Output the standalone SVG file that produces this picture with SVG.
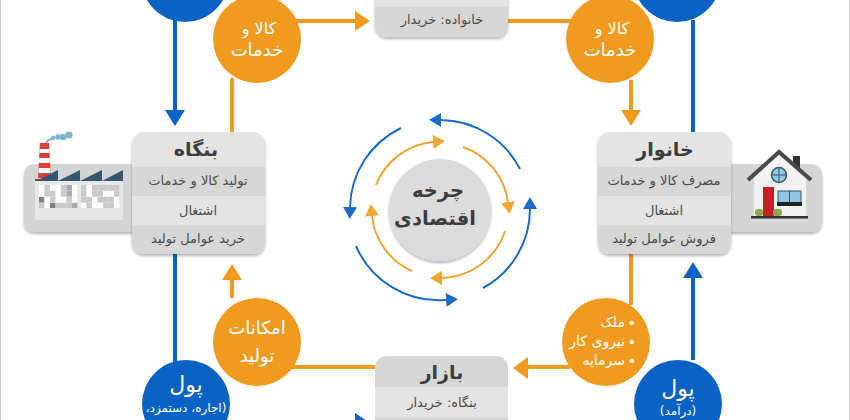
<svg xmlns="http://www.w3.org/2000/svg" width="850" height="420" viewBox="0 0 850 420">
<style>
text{font-family:"DejaVu Sans",sans-serif;text-anchor:middle;direction:rtl}
.o{fill:#f09a1f}.b{fill:#0a63c4}
.lo{stroke:#f09a1f;stroke-width:4;fill:none}.lb{stroke:#0a63c4;stroke-width:4;fill:none}
.ao{stroke:#f0a632;stroke-width:2;fill:none}.ab{stroke:#1a6cc8;stroke-width:2;fill:none}
.dk{fill:#d7d7d7}
.h{font-size:19px;font-weight:bold;fill:#3c3c3c}
.c{font-size:19.5px;font-weight:bold;fill:#3c3c3c}
.r{font-size:13px;fill:#4a4a4a}
.w{fill:#fff;font-size:18px}
.k{fill:#fff;font-size:16px}
.wb{fill:#fff;font-size:18px}
.bl{fill:#fff;font-size:14px}
.p{fill:#fff;font-size:22px}
.s{fill:#fff;font-size:12px}
.m1{fill:#fff}.m2{fill:#c9c9c9}.m3{fill:#a8a8a8}.m4{fill:#808080}
</style>
<defs>
<filter id="s" x="-10%" y="-10%" width="120%" height="120%"><feDropShadow dx="0" dy="2" stdDeviation="1.5" flood-color="#000" flood-opacity=".3"/></filter>
<marker id="mo" markerUnits="userSpaceOnUse" markerWidth="14" markerHeight="14" refX="0" refY="7" orient="auto"><path d="M0 0L12 7L0 14z" fill="#f0a632"/></marker>
<marker id="mb" markerUnits="userSpaceOnUse" markerWidth="14" markerHeight="14" refX="0" refY="7" orient="auto"><path d="M0 0L12 7L0 14z" fill="#1a6cc8"/></marker>
<clipPath id="c1"><rect x="132" y="132" width="133" height="122" rx="12"/></clipPath>
<clipPath id="c2"><rect x="598" y="132" width="133" height="122" rx="12"/></clipPath>
<clipPath id="c3"><rect x="375" y="356" width="133" height="90" rx="12"/></clipPath>
<clipPath id="c4"><rect x="375" y="-60" width="133" height="97" rx="12"/></clipPath>
</defs>
<rect width="850" height="420" fill="#fff"/>
<rect x="0" y="0" width="1" height="420" fill="#ccc"/>
<rect x="849" y="0" width="1" height="420" fill="#ccc"/>
<g id="connectors">
<path class="lb" d="M175 20V112"/><path class="b" d="M165 110H185L175 126z"/>
<path class="lo" d="M232 78V132"/>
<path class="lo" d="M290 21H356"/><path class="o" d="M355 11V31L370 21z"/>
<path class="lo" d="M508 21H575"/>
<path class="lo" d="M631 80V112"/><path class="o" d="M621 110H641L631 126z"/>
<path class="lb" d="M693 20V132"/>
<path class="lb" d="M693 360V276"/><path class="b" d="M683 278H703L693 262z"/>
<path class="lo" d="M631 254V305"/>
<path class="lo" d="M570 367H526"/><path class="o" d="M528 357V379L513 368z"/>
<path class="lo" d="M375 367H290"/>
<path class="lo" d="M232 298V278"/><path class="o" d="M222 280H242L232 264z"/>
<path class="lb" d="M175 254V362"/>
<path class="b" d="M355 413V433L370 423z"/>
<path class="ab" d="M520 169A90 90 0 0 0 441 120" marker-end="url(#mb)"/>
<path class="ab" d="M401 128A90 90 0 0 0 350 207" marker-end="url(#mb)"/>
<path class="ab" d="M356 246A90 90 0 0 0 446 300" marker-end="url(#mb)"/>
<path class="ab" d="M483 288A90 90 0 0 0 530 209" marker-end="url(#mb)"/>
<path class="ao" d="M376 185A68 68 0 0 1 433 142" marker-end="url(#mo)"/>
<path class="ao" d="M463 147A68 68 0 0 1 508 202" marker-end="url(#mo)"/>
<path class="ao" d="M505 231A68 68 0 0 1 442 278" marker-end="url(#mo)"/>
<path class="ao" d="M412 271A68 68 0 0 1 372 216" marker-end="url(#mo)"/>
</g>
<g id="firm">
<rect x="24" y="164" width="120" height="68" rx="10" fill="#d5d5d5" filter="url(#s)"/>
<g fill="#7fb3cf"><circle cx="69" cy="135" r="3.6"/><circle cx="63" cy="137" r="3.2"/><circle cx="58" cy="137" r="2.8"/><circle cx="53" cy="138" r="2.2"/></g>
<path d="M53 139q-6 0-7 5" fill="none" stroke="#7fb3cf" stroke-width="2"/>
<path d="M40 143H49L51 178H38z" fill="#e23b3b"/>
<path d="M39.7 149H49.3L49.5 153H39.5zM39.2 158H49.8L50 163H39zM38.7 168H50.3L50.5 173H38.5z" fill="#fff"/>
<rect x="35" y="181" width="88" height="39" fill="#e8e8e8"/>
<path d="M36 181L58 170V181zM58 181L80 170V181zM80 181L102 170V181zM102 181L123 170V181z" fill="#35566f"/>
<rect x="35" y="179" width="8" height="2" fill="#555"/>
<g>
<rect class="m1" x="39" y="185" width="5.4" height="5.5"/><rect class="m2" x="44.5" y="185" width="5.4" height="5.5"/><rect class="m1" x="50" y="185" width="5.4" height="5.5"/><rect class="m1" x="55.5" y="185" width="5.4" height="5.5"/><rect class="m2" x="61" y="185" width="5.4" height="5.5"/><rect class="m3" x="66.5" y="185" width="5.4" height="5.5"/><rect class="m1" x="72" y="185" width="5.4" height="5.5"/>
<rect class="m2" x="81" y="185" width="5.4" height="5.5"/><rect class="m1" x="86.5" y="185" width="5.4" height="5.5"/><rect class="m2" x="92" y="185" width="5.4" height="5.5"/><rect class="m2" x="97.5" y="185" width="5.4" height="5.5"/><rect class="m2" x="103" y="185" width="5.4" height="5.5"/><rect class="m2" x="108.5" y="185" width="5.4" height="5.5"/><rect class="m2" x="114" y="185" width="5.4" height="5.5"/>
<rect class="m1" x="39" y="191" width="5.4" height="5.5"/><rect class="m2" x="44.5" y="191" width="5.4" height="5.5"/><rect class="m2" x="50" y="191" width="5.4" height="5.5"/><rect class="m1" x="55.5" y="191" width="5.4" height="5.5"/><rect class="m2" x="61" y="191" width="5.4" height="5.5"/><rect class="m3" x="66.5" y="191" width="5.4" height="5.5"/><rect class="m1" x="72" y="191" width="5.4" height="5.5"/>
<rect class="m2" x="81" y="191" width="5.4" height="5.5"/><rect class="m1" x="86.5" y="191" width="5.4" height="5.5"/><rect class="m2" x="92" y="191" width="5.4" height="5.5"/><rect class="m2" x="97.5" y="191" width="5.4" height="5.5"/><rect class="m1" x="103" y="191" width="5.4" height="5.5"/><rect class="m1" x="108.5" y="191" width="5.4" height="5.5"/><rect class="m2" x="114" y="191" width="5.4" height="5.5"/>
<rect class="m4" x="39" y="197" width="5.4" height="5.5"/><rect class="m1" x="44.5" y="197" width="5.4" height="5.5"/><rect class="m2" x="50" y="197" width="5.4" height="5.5"/><rect class="m1" x="55.5" y="197" width="5.4" height="5.5"/><rect class="m1" x="61" y="197" width="5.4" height="5.5"/><rect class="m2" x="66.5" y="197" width="5.4" height="5.5"/><rect class="m1" x="72" y="197" width="5.4" height="5.5"/>
<rect class="m2" x="81" y="197" width="5.4" height="5.5"/><rect class="m2" x="86.5" y="197" width="5.4" height="5.5"/><rect class="m1" x="92" y="197" width="5.4" height="5.5"/><rect class="m2" x="97.5" y="197" width="5.4" height="5.5"/><rect class="m2" x="103" y="197" width="5.4" height="5.5"/><rect class="m2" x="108.5" y="197" width="5.4" height="5.5"/><rect class="m1" x="114" y="197" width="5.4" height="5.5"/>
<rect class="m2" x="39" y="203" width="5.4" height="5"/><rect class="m1" x="44.5" y="203" width="5.4" height="5"/><rect class="m4" x="50" y="203" width="5.4" height="5"/><rect class="m2" x="55.5" y="203" width="5.4" height="5"/><rect class="m2" x="61" y="203" width="5.4" height="5"/><rect class="m2" x="66.5" y="203" width="5.4" height="5"/><rect class="m3" x="72" y="203" width="5.4" height="5"/>
<rect class="m1" x="81" y="203" width="5.4" height="5"/><rect class="m2" x="86.5" y="203" width="5.4" height="5"/><rect class="m1" x="92" y="203" width="5.4" height="5"/><rect class="m1" x="97.5" y="203" width="5.4" height="5"/><rect class="m2" x="103" y="203" width="5.4" height="5"/><rect class="m2" x="108.5" y="203" width="5.4" height="5"/><rect class="m1" x="114" y="203" width="5.4" height="5"/>
</g>
<g filter="url(#s)"><rect x="132" y="132" width="133" height="122" rx="12" fill="#e4e4e4"/></g>
<g clip-path="url(#c1)"><rect class="dk" x="132" y="167" width="133" height="29"/><rect class="dk" x="132" y="225" width="133" height="30"/></g>
<text class="h" x="196" y="156">بنگاه</text>
<text class="r" x="198" y="185">تولید کالا و خدمات</text>
<text class="r" x="198" y="215">اشتغال</text>
<text class="r" x="198" y="243">خرید عوامل تولید</text>
</g>
<g id="household">
<rect x="700" y="164" width="122" height="68" rx="10" fill="#d5d5d5" filter="url(#s)"/>
<rect x="793" y="156" width="7" height="14" fill="#333"/>
<path d="M754 178L779 154L806 178V216H754z" fill="#f2f2f2"/>
<path d="M748 180L779 152L811 180" fill="none" stroke="#4a4a4a" stroke-width="4"/>
<circle cx="779" cy="175" r="7.5" fill="#8fc6e0" stroke="#35566f" stroke-width="1.5"/>
<path d="M771.5 175H786.500M779 167.500V182.500" stroke="#35566f"/>
<rect x="763" y="187" width="11" height="29" fill="#c61f26"/>
<rect x="778" y="191" width="23" height="12" fill="#8fc6e0" stroke="#35566f"/>
<path d="M789.500 191V203" stroke="#35566f"/>
<rect x="777" y="202" width="25" height="4" fill="#222"/>
<rect x="755" y="209" width="8" height="7" rx="3" fill="#8ea64a"/><rect x="773" y="209" width="9" height="7" rx="3" fill="#8ea64a"/>
<rect x="751" y="216" width="57" height="2.500" fill="#333"/>
<g filter="url(#s)"><rect x="598" y="132" width="133" height="122" rx="12" fill="#e4e4e4"/></g>
<g clip-path="url(#c2)"><rect class="dk" x="598" y="167" width="133" height="29"/><rect class="dk" x="598" y="225" width="133" height="30"/></g>
<text class="h" x="665" y="156">خانوار</text>
<text class="r" x="664" y="185">مصرف کالا و خدمات</text>
<text class="r" x="664" y="215">اشتغال</text>
<text class="r" x="664" y="243">فروش عوامل تولید</text>
</g>
<g id="market-bottom">
<rect x="375" y="356" width="133" height="90" rx="12" fill="#e4e4e4"/>
<g clip-path="url(#c3)"><rect class="dk" x="375" y="356" width="133" height="31"/><rect class="dk" x="375" y="417" width="133" height="30"/></g>
<text class="h" x="442" y="379">بازار</text>
<text class="r" x="442" y="407">بنگاه: خریدار</text>
</g>
<g id="market-top">
<g filter="url(#s)"><rect x="375" y="-60" width="133" height="97" rx="12" fill="#e4e4e4"/></g>
<g clip-path="url(#c4)"><rect class="dk" x="375" y="7" width="133" height="31"/></g>
<text class="r" x="442" y="24">خانواده: خریدار</text>
</g>
<g id="center">
<circle cx="440" cy="210" r="51" fill="#dcdcdc" filter="url(#s)"/>
<text class="c" x="438" y="197">چرخه</text>
<text class="c" x="435" y="225">اقتصادی</text>
</g>
<g id="goods-left"><circle class="o" cx="257" cy="39" r="44"/>
<text class="k" x="259" y="34">کالا و</text><text class="w" x="257" y="56">خدمات</text></g>
<g id="goods-right"><circle class="o" cx="610" cy="39" r="44"/>
<text class="k" x="612" y="34">کالا و</text><text class="w" x="610" y="56">خدمات</text></g>
<g id="resources-left"><circle class="o" cx="257" cy="342" r="44"/>
<text class="wb" x="257" y="334">امکانات</text><text class="wb" x="257" y="362">تولید</text></g>
<g id="resources-right"><circle class="o" cx="606" cy="342" r="44"/>
<text class="bl" x="632" y="328">•</text><text class="bl" x="625" y="327" style="text-anchor:start">ملک</text>
<text class="bl" x="632" y="347">•</text><text class="bl" x="625" y="346" style="text-anchor:start">نیروی کار</text>
<text class="bl" x="632" y="366">•</text><text class="bl" x="625" y="365" style="text-anchor:start">سرمایه</text></g>
<g id="money-tl"><circle class="b" cx="185" cy="-22" r="44"/></g>
<g id="money-tr"><circle class="b" cx="677" cy="-22" r="44"/></g>
<g id="money-bl"><circle class="b" cx="186" cy="404" r="44"/>
<text class="p" x="186" y="392">پول</text>
<text class="s" x="186" y="412">(اجاره، دستمزد،</text></g>
<g id="money-br"><circle class="b" cx="678" cy="404" r="44"/>
<text class="p" x="678" y="396">پول</text>
<text class="s" x="678" y="415">(درآمد)</text></g>
</svg>
